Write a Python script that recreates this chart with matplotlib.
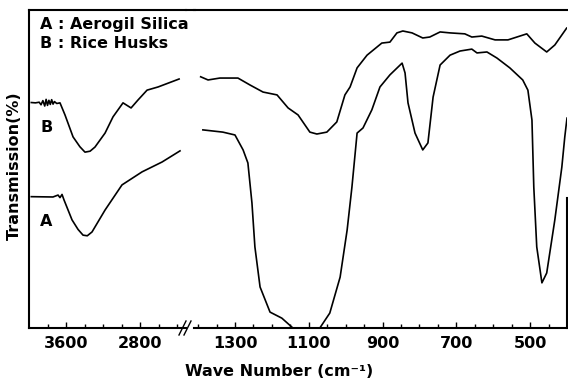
import matplotlib
matplotlib.use("Agg")
import matplotlib.pyplot as plt
from matplotlib.lines import Line2D

# ---- data (transmission, arbitrary %) ----
# high wavenumber part (4000 - 2300 cm-1)
wn_b_hi = [3975, 3930, 3890, 3870, 3850, 3830, 3815, 3800, 3785, 3770, 3755, 3740,
           3725, 3700, 3665, 3611, 3524, 3450, 3395, 3340, 3287, 3178, 3092, 2984,
           2897, 2822, 2724, 2605, 2378]
t_b_hi = [70.9, 70.8, 71.0, 70.2, 71.5, 69.8, 71.9, 70.0, 71.6, 70.3, 71.8, 70.4,
          71.2, 70.6, 70.8, 67.0, 60.1, 57.0, 55.3, 55.6, 56.9, 61.3, 66.4, 70.8,
          69.2, 71.7, 74.8, 75.8, 78.3]

wn_a_hi = [3975, 3741, 3686, 3665, 3643, 3622, 3535, 3470, 3416, 3370, 3319, 3178,
           2995, 2778, 2562, 2368]
t_a_hi = [41.3, 41.2, 41.8, 41.0, 42.0, 40.3, 34.0, 31.0, 29.2, 29.0, 30.2, 37.1,
          45.0, 49.1, 52.2, 55.7]

# low wavenumber part (1400 - 400 cm-1)
wn_b_lo = [1393, 1373, 1341, 1292, 1259, 1224, 1186, 1156, 1129, 1097, 1078, 1051,
           1024, 1002, 988, 969, 942, 902, 880, 861, 845, 820, 791, 772, 744, 717,
           677, 658, 631, 595, 560, 509, 487, 455, 433, 401]
t_b_lo = [79.0, 78.0, 78.6, 78.6, 76.4, 74.2, 73.3, 69.2, 67.0, 61.6, 61.0, 61.6,
          64.8, 73.3, 75.8, 81.8, 85.8, 89.6, 89.9, 92.8, 93.4, 92.8, 91.2, 91.5,
          93.1, 92.8, 92.5, 91.5, 91.8, 90.6, 90.6, 92.5, 89.6, 86.8, 89.0, 94.3]

wn_a_lo = [1387, 1333, 1300, 1278, 1265, 1254, 1246, 1232, 1205, 1173, 1143, 1070,
           1043, 1015, 996, 983, 969, 953, 929, 907, 880, 847, 839, 831, 812, 791,
           777, 763, 744, 717, 690, 658, 644, 617, 590, 555, 520, 506, 495, 490,
           482, 468, 455, 433, 414, 406, 400]
t_a_lo = [62.3, 61.6, 60.7, 56.0, 51.9, 39.3, 25.5, 12.9, 5.0, 3.1, 0.0, 0.0,
          4.7, 16.0, 30.8, 44.3, 61.3, 62.9, 68.6, 75.8, 79.6, 83.3, 80.2, 70.8,
          61.3, 56.0, 58.2, 72.6, 82.7, 85.8, 87.1, 87.7, 86.5, 86.8, 84.9, 81.8,
          78.0, 74.8, 65.4, 44.3, 25.5, 14.2, 17.3, 34.0, 50.6, 60.1, 66.0]

ticks_hi = [3600, 2800]
minor_hi = [3800, 3400, 3200, 3000, 2600, 2400]
ticks_lo = [1300, 1100, 900, 700, 500]
minor_lo = [1400, 1350, 1250, 1200, 1150, 1050, 1000, 950, 850, 800, 750, 650,
            600, 550, 450]

W, H = 568, 388
plt.rcParams['font.family'] = 'DejaVu Sans'
plt.rcParams['font.weight'] = 'bold'

fig = plt.figure(figsize=(W / 100, H / 100), dpi=100)
bot, hgt = 60 / H, 318 / H
ax1 = fig.add_axes([29 / W, bot, (186.3 - 29) / W, hgt])
ax2 = fig.add_axes([194.4 / W, bot, (567 - 194.4) / W, hgt])

lw = 1.2
ax1.plot(wn_b_hi, t_b_hi, color='black', lw=lw)
ax1.plot(wn_a_hi, t_a_hi, color='black', lw=lw)
ax2.plot(wn_b_lo, t_b_lo, color='black', lw=lw)
ax2.plot(wn_a_lo, t_a_lo, color='black', lw=lw)

ax1.set_xlim(4000, 2300)
ax2.set_xlim(1410, 400)
for ax in (ax1, ax2):
    ax.set_ylim(0, 100)
    ax.set_yticks([])
    ax.tick_params(axis='x', which='both', direction='in', width=1.0,
                   labelsize=11.5, pad=6)
    ax.tick_params(axis='x', which='major', length=4)
    ax.tick_params(axis='x', which='minor', length=3)
    for s in ax.spines.values():
        s.set_linewidth(1.5)

ax1.set_xticks(ticks_hi)
ax1.set_xticks(minor_hi, minor=True)
ax2.set_xticks(ticks_lo)
ax2.set_xticks(minor_lo, minor=True)

ax1.spines['right'].set_visible(False)
ax2.spines['left'].set_visible(False)
ax2.spines['right'].set_bounds(0, 41)

# top frame line across the break
fig.add_artist(Line2D([186 / W, 195 / W], [bot + hgt, bot + hgt],
                      color='black', lw=1.5))
# break marks on the x axis
for dx in (0, 5):
    fig.add_artist(Line2D([(179 + dx) / W, (186 + dx) / W],
                          [1 - 335 / H, 1 - 321 / H], color='black', lw=1.0))

fig.text(40 / W, 1 - 24 / H, 'A : Aerogil Silica', fontsize=11.5,
         fontweight='bold', va='center', ha='left')
fig.text(40 / W, 1 - 44 / H, 'B : Rice Husks', fontsize=11.5,
         fontweight='bold', va='center', ha='left')
fig.text(40 / W, 1 - 128 / H, 'B', fontsize=11.5, fontweight='bold',
         va='center', ha='left')
fig.text(40 / W, 1 - 222 / H, 'A', fontsize=11.5, fontweight='bold',
         va='center', ha='left')

fig.text(279 / W, 1 - 372 / H, 'Wave Number (cm\u207b\u00b9)', fontsize=11.5,
         fontweight='bold', ha='center', va='center')
fig.text(14 / W, 1 - 166 / H, 'Transmission(%)', fontsize=11.5,
         fontweight='bold', rotation=90, ha='center', va='center')

fig.savefig('out.png', dpi=100)
